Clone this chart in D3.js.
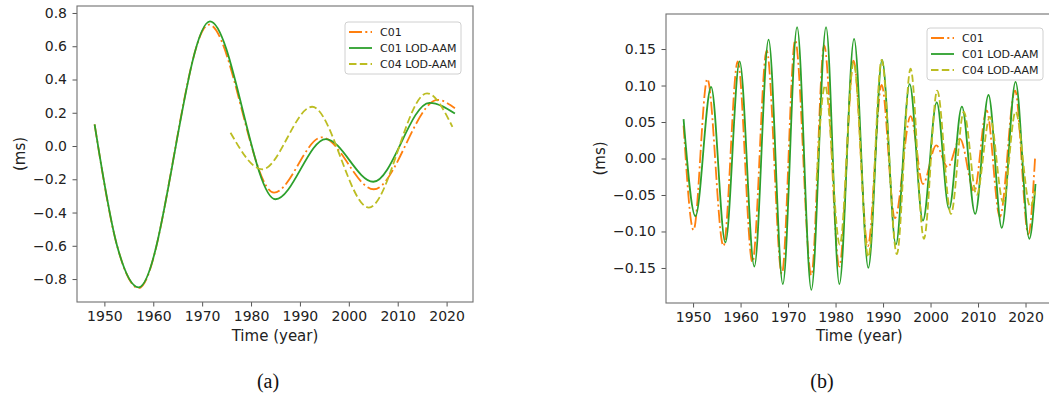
<!DOCTYPE html>
<html lang="en">
<head>
<meta charset="UTF-8">
<title>LOD-AAM comparison</title>
<script src="https://d3js.org/d3.v7.min.js"></script>
<style>
  body { margin: 0; background: #fff; }
  svg { display: block; }
</style>
</head>
<body>
<div id="chart"></div>
<script>
// ---- data ----
const seriesNames = ["C01", "C01 LOD-AAM", "C04 LOD-AAM"];
const xTicks = [1950, 1960, 1970, 1980, 1990, 2000, 2010, 2020];
const ticksA = [-0.8, -0.6, -0.4, -0.2, 0.0, 0.2, 0.4, 0.6, 0.8];
const ticksB = [-0.15, -0.10, -0.05, 0.00, 0.05, 0.10, 0.15];

// panel (a): turning points of the decadal signal
const aC01Year = [1948, 1952.6, 1957, 1971.4, 1984.7, 1994.5, 2005.1, 2018.2, 2021.7];
const aC01Val  = [0.13, -0.60, -0.855, 0.73, -0.28, 0.052, -0.26, 0.277, 0.227];
const aLodYear = [1948, 1952.6, 1957, 1971.6, 1985, 1995.3, 2005, 2016.5, 2021.7];
const aLodVal  = [0.13, -0.60, -0.85, 0.75, -0.32, 0.042, -0.215, 0.26, 0.195];
const aC04Year = [1975.8, 1982.3, 1992.5, 2004.1, 2016, 2021.2];
const aC04Val  = [0.08, -0.14, 0.236, -0.37, 0.317, 0.115];

// panel (b): peaks and troughs of the ~6 year signal
const bC01Year = [1948, 1950.1, 1953.0, 1956.4, 1959.4, 1962.5, 1965.5, 1968.7, 1971.5, 1974.9,
                  1977.6, 1980.8, 1983.8, 1986.8, 1989.7, 1992.5, 1995.8, 1998.4, 2001.2, 2003.6,
                  2006.2, 2009.2, 2011.8, 2014.6, 2017.8, 2020.6, 2022.0];
const bC01Val  = [0.045, -0.098, 0.109, -0.12, 0.133, -0.142, 0.148, -0.158, 0.162, -0.16,
                  0.155, -0.148, 0.134, -0.12, 0.101, -0.082, 0.058, -0.035, 0.018, -0.012,
                  0.027, -0.045, 0.066, -0.08, 0.093, -0.104, 0.0];
const bLodYear = [1948, 1950.5, 1953.8, 1956.8, 1959.8, 1962.9, 1965.9, 1968.9, 1971.9, 1974.9,
                  1978.0, 1980.8, 1983.9, 1986.9, 1989.8, 1992.7, 1995.6, 1998.4, 2001.3, 2003.9,
                  2006.6, 2009.4, 2012.2, 2015.0, 2017.9, 2020.8, 2022.1];
const bLodVal  = [0.054, -0.079, 0.098, -0.115, 0.133, -0.148, 0.163, -0.172, 0.18, -0.18,
                  0.18, -0.172, 0.164, -0.15, 0.135, -0.118, 0.102, -0.085, 0.077, -0.069,
                  0.071, -0.076, 0.087, -0.095, 0.105, -0.11, -0.035];
const bC04Year = [1976.0, 1977.8, 1980.9, 1983.8, 1986.9, 1989.7, 1992.9, 1995.8, 1998.6, 2001.4,
                  2004.3, 2007.0, 2009.7, 2012.5, 2015.3, 2017.9, 2021.0, 2022.0];
const bC04Val  = [-0.03, 0.10, -0.118, 0.132, -0.135, 0.135, -0.131, 0.123, -0.11, 0.093,
                  -0.076, 0.064, -0.05, 0.057, -0.06, 0.064, -0.066, -0.045];

// ---- styles ----
const W = 1049, H = 401;
const font = "DejaVu Sans, sans-serif";
const colors = ["#ff7f0e", "#2ca02c", "#bcbd22"];
const dashes = ["13 3.3 2 3.3", null, "7.5 3.3"];

const svg = d3.select("#chart").append("svg")
    .attr("width", W).attr("height", H);

function zip(xs, ys) { return xs.map((x, i) => [x, ys[i]]); }

function drawPanel(p) {
    const x = d3.scaleLinear().domain(p.xDomain).range([p.left, p.right]);
    const y = d3.scaleLinear().domain(p.yDomain).range([p.bottom, p.top]);
    const g = svg.append("g");

    const clipId = "clip-" + p.id;
    g.append("clipPath").attr("id", clipId)
        .append("rect")
        .attr("x", p.left).attr("y", p.top)
        .attr("width", p.right - p.left).attr("height", p.bottom - p.top);

    // lines
    const line = d3.line()
        .x(d => x(d[0])).y(d => y(d[1]))
        .curve(d3.curveMonotoneX);
    const lines = g.append("g").attr("clip-path", `url(#${clipId})`);
    p.series.forEach((s, i) => {
        lines.append("path")
            .datum(s)
            .attr("fill", "none")
            .attr("stroke", colors[i])
            .attr("stroke-width", 1.8)
            .attr("stroke-dasharray", dashes[i])
            .attr("d", line);
    });

    // axes
    const xAxis = g.append("g")
        .attr("transform", `translate(0,${p.bottom})`)
        .call(d3.axisBottom(x).tickValues(xTicks).tickFormat(d3.format("d"))
            .tickSize(4.5).tickPadding(5).tickSizeOuter(0));
    const yAxis = g.append("g")
        .attr("transform", `translate(${p.left},0)`)
        .call(d3.axisLeft(y).tickValues(p.yTicks).tickFormat(d3.format(p.yFormat))
            .tickSize(4.5).tickPadding(5.5).tickSizeOuter(0));
    [xAxis, yAxis].forEach(a => {
        a.select(".domain").remove();
        a.attr("font-family", font).attr("font-size", 14);
        a.selectAll("line").attr("stroke", "#555");
        a.selectAll("text").attr("fill", "#222");
    });

    // spines
    g.append("rect")
        .attr("x", p.left).attr("y", p.top)
        .attr("width", p.right - p.left).attr("height", p.bottom - p.top)
        .attr("fill", "none").attr("stroke", "#707070").attr("stroke-width", 1.1);

    // axis labels
    g.append("text")
        .attr("x", (p.left + p.right) / 2).attr("y", 341)
        .attr("text-anchor", "middle")
        .attr("font-family", font).attr("font-size", 15).attr("fill", "#222")
        .text("Time (year)");
    g.append("text")
        .attr("transform", `translate(${p.left - p.ylabelOffset},${(p.top + p.bottom) / 2}) rotate(-90)`)
        .attr("text-anchor", "middle")
        .attr("dy", "0.35em")
        .attr("font-family", font).attr("font-size", 15).attr("fill", "#222")
        .text("(ms)");

    // sub caption
    g.append("text")
        .attr("x", p.caption[0]).attr("y", 388)
        .attr("text-anchor", "middle")
        .attr("font-family", "Liberation Serif, serif").attr("font-size", 20).attr("fill", "#111")
        .text(p.caption[1]);

    // legend
    const lg = g.append("g").attr("transform", `translate(${p.legend[0]},${p.legend[1]})`);
    lg.append("rect")
        .attr("x", 0).attr("y", 0).attr("width", 116).attr("height", 52)
        .attr("rx", 3)
        .attr("fill", "#fff").attr("fill-opacity", 0.8)
        .attr("stroke", "#d0d0d0").attr("stroke-width", 1);
    seriesNames.forEach((name, i) => {
        const cy = 10 + i * 16;
        lg.append("line")
            .attr("x1", 4).attr("x2", 27).attr("y1", cy).attr("y2", cy)
            .attr("stroke", colors[i]).attr("stroke-width", 1.8)
            .attr("stroke-dasharray", dashes[i]);
        lg.append("text")
            .attr("x", 35).attr("y", cy).attr("dy", "0.36em")
            .attr("font-family", font).attr("font-size", 11).attr("fill", "#222")
            .text(name);
    });
}

drawPanel({
    id: "a",
    left: 77, right: 473, top: 6, bottom: 302,
    xDomain: [1944.4, 2025.4], yDomain: [-0.938, 0.842],
    yTicks: ticksA, yFormat: ".1f",
    ylabelOffset: 57,
    series: [zip(aC01Year, aC01Val), zip(aLodYear, aLodVal), zip(aC04Year, aC04Val)],
    legend: [345, 22],
    caption: [268, "(a)"]
});

drawPanel({
    id: "b",
    left: 666, right: 1052.6, top: 14, bottom: 303,
    xDomain: [1944.3, 2025.7], yDomain: [-0.198, 0.198],
    yTicks: ticksB, yFormat: ".2f",
    ylabelOffset: 66,
    series: [zip(bC01Year, bC01Val), zip(bLodYear, bLodVal), zip(bC04Year, bC04Val)],
    legend: [927, 28],
    caption: [822, "(b)"]
});
</script>
</body>
</html>
